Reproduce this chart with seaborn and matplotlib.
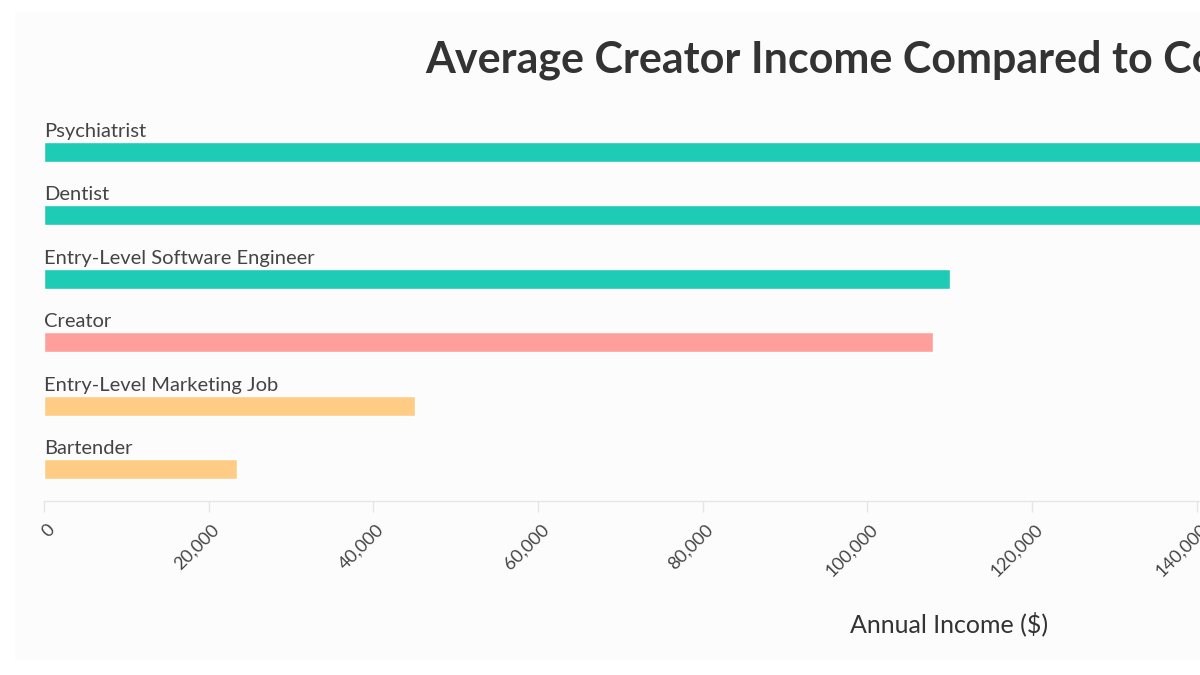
import matplotlib
matplotlib.use("Agg")
import matplotlib.pyplot as plt
import matplotlib.ticker as mticker
import matplotlib.transforms as mtransforms
from matplotlib.patches import Rectangle
import seaborn as sns

jobs = [
    "Psychiatrist",
    "Dentist",
    "Entry-Level Software Engineer",
    "Creator",
    "Entry-Level Marketing Job",
    "Bartender",
]
income = [208000, 175000, 110000, 108000, 45000, 23400]
bar_colors = ["#1ecbb4", "#1ecbb4", "#1ecbb4", "#ff9f9b", "#ffcc85", "#ffcc85"]
x_ticks = [0, 20000, 40000, 60000, 80000, 100000, 120000, 140000, 160000, 180000, 200000]
x_max = 219800

title = "Average Creator Income Compared to Common Jobs"
x_title = "Annual Income ($)"

sns.set_theme(style="white")
plt.rcParams["font.family"] = ["Lato", "DejaVu Sans"]

W, H = 1200, 675
fig = plt.figure(figsize=(12, 6.75), dpi=100)
fig.patch.set_facecolor("white")

# faint card behind the chart (the original screenshot is cropped on the right)
fig.patches.append(Rectangle((15 / W, 1 - 660 / H), 1.2, (660 - 12) / H,
                             transform=fig.transFigure, facecolor="#fcfcfc",
                             edgecolor="none", zorder=-5))

# plot area runs past the right edge, like the reference crop
ax = fig.add_axes([44 / W, 1 - 501 / H, 1810 / W, 381 / H])
ax.set_facecolor("none")
ax.set_zorder(2)

bar_w = 0.315
sns.barplot(x=income, y=jobs, hue=jobs, palette=bar_colors, orient="h",
            width=bar_w, legend=False, saturation=1, ax=ax)

ax.set_xlim(0, x_max)
ax.set_ylim(len(jobs) - 0.5, -0.5)

# category names sit above each bar, left aligned
for i, name in enumerate(jobs):
    ax.annotate(name, xy=(0, i - bar_w / 2), xytext=(0, 5), textcoords="offset pixels",
                ha="left", va="baseline", fontsize=14.5, color="#444444")

ax.set_yticks([])
ax.set_ylabel("")
ax.set_xticks(x_ticks)
ax.xaxis.set_major_formatter(mticker.FuncFormatter(lambda v, p: f"{v:,.0f}"))
ax.tick_params(axis="x", bottom=True, length=8, width=1, color="#e6e6e6",
               labelsize=13, labelcolor="#444444", pad=8)
shift = mtransforms.ScaledTranslation(8 / 100, -4 / 100, fig.dpi_scale_trans)
for lab in ax.get_xticklabels():
    lab.set_rotation(45)
    lab.set_ha("right")
    lab.set_va("center")
    lab.set_rotation_mode("anchor")
    lab.set_transform(lab.get_transform() + shift)

for side in ["top", "right", "left"]:
    ax.spines[side].set_visible(False)
ax.spines["bottom"].set_color("#e6e6e6")
ax.spines["bottom"].set_linewidth(1)

fig.text(949 / W, 1 - 624 / H, x_title, ha="center", va="center",
         fontsize=18, color="#333333")
fig.text(425 / W, 1 - 60 / H, title, ha="left", va="center",
         fontsize=31, fontweight="bold", color="#333333")

fig.savefig("out.png", dpi=100)
